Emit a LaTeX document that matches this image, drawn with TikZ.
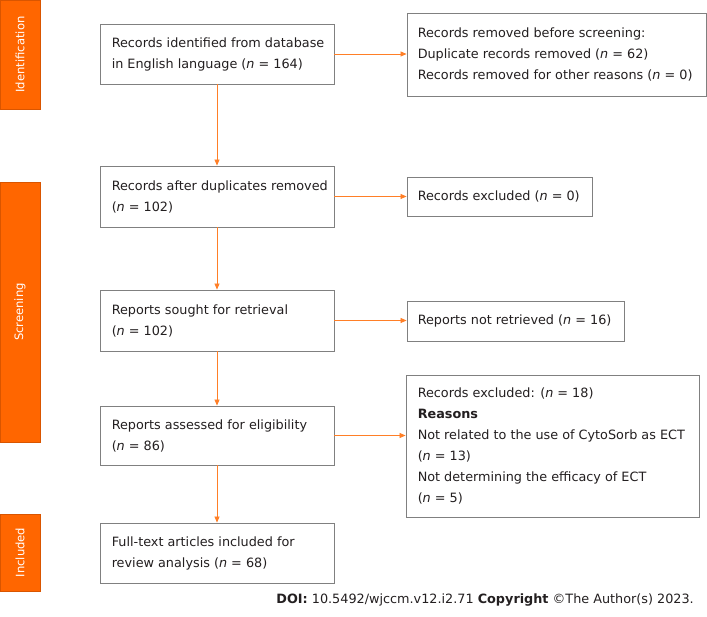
\documentclass[tikz,border=0pt]{standalone}
\usepackage{fontspec}
\setmainfont{DejaVu Sans}
\usetikzlibrary{arrows.meta}
\definecolor{barorange}{HTML}{FF6600}
\definecolor{baredge}{HTML}{D95500}
\definecolor{arrorange}{HTML}{FF7F27}
\definecolor{boxgray}{HTML}{808080}
\definecolor{txt}{HTML}{231F20}
\begin{document}
\begin{tikzpicture}[x=1pt,y=-1pt,
  box/.style={draw=boxgray, line width=0.9pt, fill=white, inner sep=0pt, anchor=center},
  boxtext/.style={anchor=west, align=left, inner sep=0pt, text=txt,
    font=\fontsize{12.8}{21}\selectfont},
  bar/.style={fill=barorange, draw=baredge, line width=0.6pt},
  bartext/.style={rotate=90, text=white, font=\fontsize{11.6}{14}\selectfont},
  arr/.style={draw=arrorange, line width=0.7pt, -{Triangle[length=6pt,width=5pt]}}
]
\useasboundingbox (0,0) rectangle (707,617);

% side bars
\path[bar] (0,0) rectangle (40,109);
\node[bartext] (idt) at (20,54.5) {Identification};
\path[bar] (0,182) rectangle (40,442);
\node[bartext] (scr) at (20,312) {Screening};
\path[bar] (0,514) rectangle (40,591);
\node[bartext] (inc) at (20,552.5) {Included};

% left column
\node[box, minimum width=234pt, minimum height=60pt] (b1) at (217,54) {};
\node[boxtext] (t1) at ([xshift=12pt]b1.west)
  {Records identified from database\\in English language (\textit{n} = 164)};
\node[box, minimum width=234pt, minimum height=61pt] (b2) at (217,196.5) {};
\node[boxtext] (t2) at ([xshift=12pt]b2.west)
  {Records after duplicates removed\\(\textit{n} = 102)};
\node[box, minimum width=234pt, minimum height=61pt] (b3) at (217,320.5) {};
\node[boxtext] (t3) at ([xshift=12pt]b3.west)
  {Reports sought for retrieval\\(\textit{n} = 102)};
\node[box, minimum width=234pt, minimum height=59pt] (b4) at (217,435.5) {};
\node[boxtext] (t4) at ([xshift=12pt]b4.west)
  {Reports assessed for eligibility\\(\textit{n} = 86)};
\node[box, minimum width=234pt, minimum height=60pt] (b5) at (217,553) {};
\node[boxtext] (t5) at ([xshift=12pt]b5.west)
  {Full-text articles included for\\review analysis (\textit{n} = 68)};

% right column
\node[box, minimum width=299pt, minimum height=83pt] (r1) at (556.5,54.5) {};
\node[boxtext] (u1) at ([xshift=11pt]r1.west)
  {Records removed before screening:\\Duplicate records removed (\textit{n} = 62)\\Records removed for other reasons (\textit{n} = 0)};
\node[box, minimum width=185pt, minimum height=39pt] (r2) at (499.5,196.5) {};
\node[boxtext] (u2) at ([xshift=11pt]r2.west)
  {Records excluded (\textit{n} = 0)};
\node[box, minimum width=217pt, minimum height=40pt] (r3) at (515.5,321) {};
\node[boxtext] (u3) at ([xshift=11pt]r3.west)
  {Reports not retrieved (\textit{n} = 16)};
\node[box, minimum width=293pt, minimum height=142pt] (r4) at (552.5,446) {};
\node[boxtext] (u4) at ([xshift=12pt]r4.west)
  {Records excluded: (\textit{n} = 18)\\\textbf{Reasons}\\Not related to the use of CytoSorb as ECT\\(\textit{n} = 13)\\Not determining the efficacy of ECT\\(\textit{n} = 5)};

% vertical arrows
\draw[arr] (b1.south) -- (b2.north);
\draw[arr] (b2.south) -- (b3.north);
\draw[arr] (b3.south) -- (b4.north);
\draw[arr] (b4.south) -- (b5.north);

% horizontal arrows
\draw[arr] (b1.east) -- (b1.east -| r1.west);
\draw[arr] (b2.east) -- (b2.east -| r2.west);
\draw[arr] (b3.east) -- (b3.east -| r3.west);
\draw[arr] (b4.east) -- (b4.east -| r4.west);

% footer
\node[anchor=base east, inner sep=0pt, text=txt, font=\fontsize{12.8}{14}\selectfont] (doi) at (694,603)
  {\textbf{DOI:} 10.5492/wjccm.v12.i2.71 \textbf{Copyright} \textcopyright The Author(s) 2023.};
\end{tikzpicture}
\end{document}
